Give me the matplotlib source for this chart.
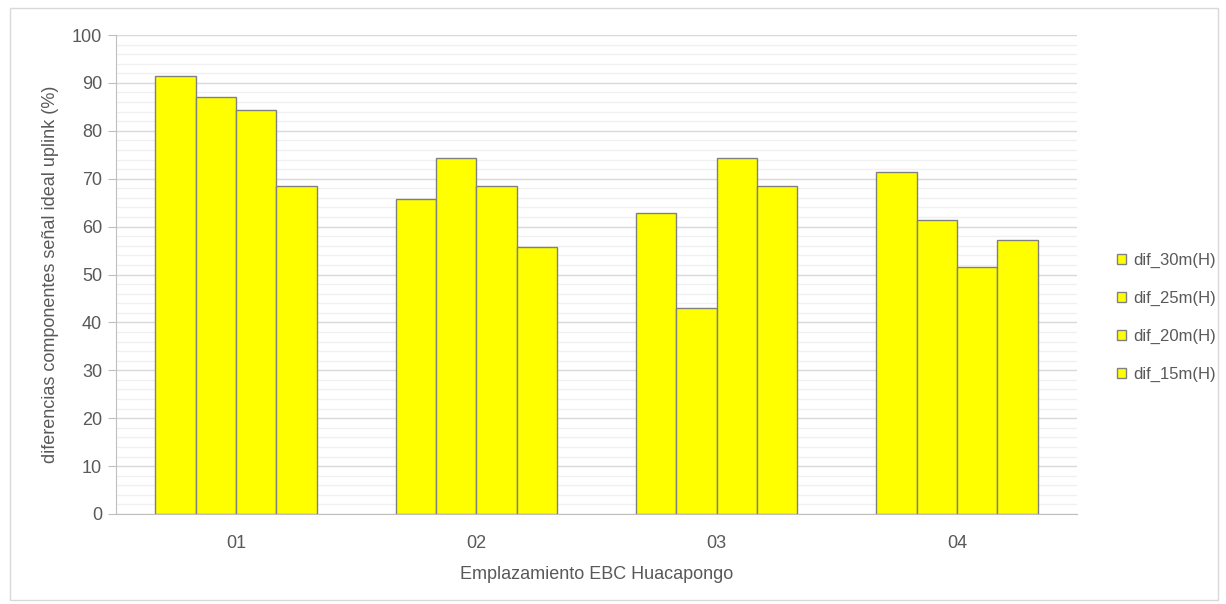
import matplotlib
matplotlib.use("Agg")
import matplotlib.pyplot as plt
import numpy as np
from matplotlib.patches import Rectangle

plt.rcParams['font.family'] = ['Liberation Sans', 'DejaVu Sans']
fs = 13

sites = ["01", "02", "03", "04"]
series_names = ["dif_30m(H)", "dif_25m(H)", "dif_20m(H)", "dif_15m(H)"]
dif_30m = [91.5, 65.8, 62.9, 71.4]
dif_25m = [87.1, 74.3, 43.0, 61.4]
dif_20m = [84.3, 68.5, 74.3, 51.6]
dif_15m = [68.5, 55.8, 68.5, 57.2]
series = [dif_30m, dif_25m, dif_20m, dif_15m]

text_color = "#595959"
bar_color = "#ffff00"
edge_color = "#808080"

fig = plt.figure(figsize=(12.26, 6.04), dpi=100)
# outer chart border
fig.patches.append(Rectangle((10 / 1226, 4 / 604), 1208 / 1226, 592 / 604,
                             transform=fig.transFigure, fill=False,
                             edgecolor="#d9d9d9", linewidth=1))

ax = fig.add_axes([116 / 1226, 1 - 514 / 604, (1077 - 116) / 1226, (514 - 35) / 604])

x = np.arange(len(sites))
width = 0.168
for i, (name, vals) in enumerate(zip(series_names, series)):
    ax.bar(x + (i - 1.5) * width, vals, width, color=bar_color,
           edgecolor=edge_color, linewidth=1.0, label=name, zorder=3)

ax.set_xlim(-0.5, len(sites) - 0.5)
ax.set_ylim(0, 100)
ax.set_yticks(np.arange(0, 101, 10))
ax.set_yticks(np.arange(0, 101, 2), minor=True)
ax.grid(axis="y", which="major", color="#d9d9d9", linewidth=1, zorder=0)
ax.grid(axis="y", which="minor", color="#f0f0f0", linewidth=1, zorder=0)
ax.set_xticks(x)
ax.set_xticklabels(sites)
ax.tick_params(axis="x", length=0, pad=15, labelsize=fs, labelcolor=text_color)
ax.tick_params(axis="y", which="major", length=6, color="#bfbfbf", pad=4,
               labelsize=fs, labelcolor=text_color)
ax.tick_params(axis="y", which="minor", length=0)

for s in ["top", "right"]:
    ax.spines[s].set_visible(False)
for s in ["left", "bottom"]:
    ax.spines[s].set_color("#bfbfbf")

ax.set_xlabel("Emplazamiento EBC Huacapongo", fontsize=fs, color=text_color, labelpad=10)
ax.set_ylabel("diferencias componentes señal ideal uplink (%)", fontsize=fs,
              color=text_color, labelpad=9)

leg = ax.legend(loc="center left", bbox_to_anchor=(1.026, 0.41), frameon=False,
                fontsize=12, labelcolor=text_color, handlelength=0.55,
                handleheight=0.55, handletextpad=0.4, labelspacing=1.38)

fig.savefig("out.png", dpi=100, facecolor="white")
